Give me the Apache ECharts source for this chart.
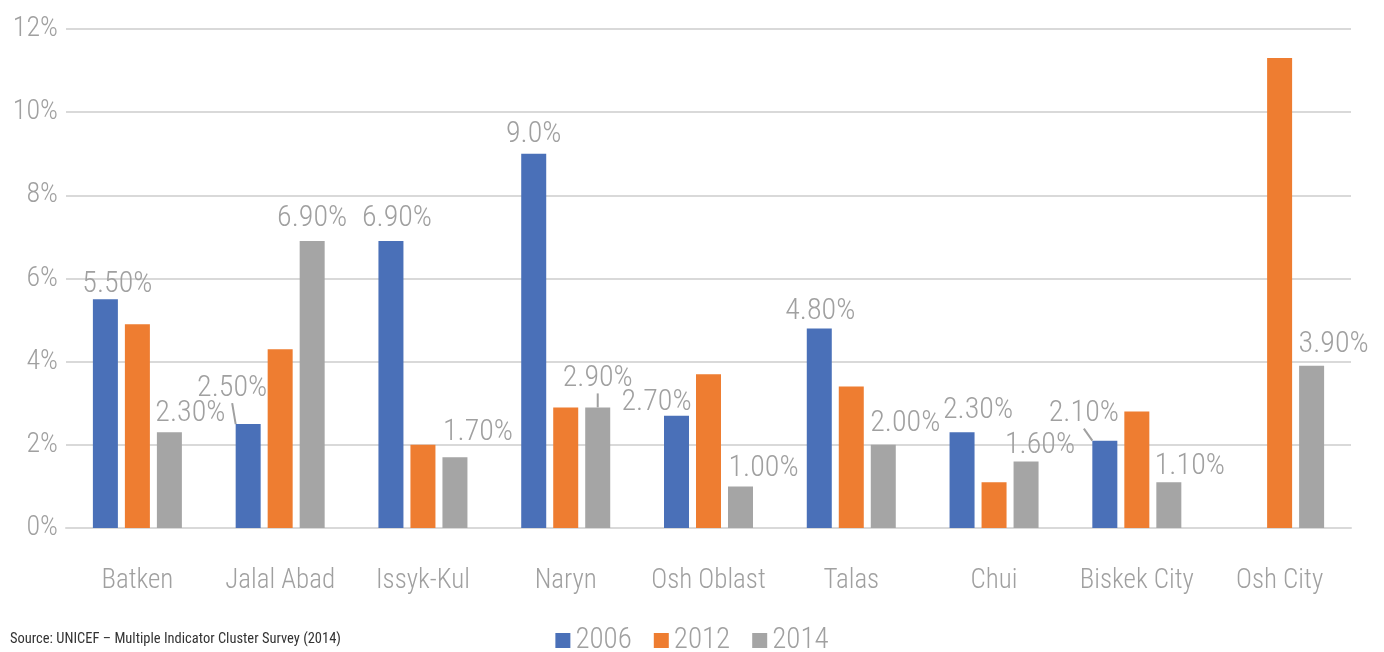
<!DOCTYPE html>
<html>
<head>
<meta charset="utf-8">
<script src="https://cdn.jsdelivr.net/npm/echarts@6/dist/echarts.min.js"></script>
<style>
html,body{margin:0;padding:0;background:#fff;}
#c{width:1384px;height:652px;}
</style>
</head>
<body>
<div id="c"></div>
<script>
const categories = ['Batken','Jalal Abad','Issyk-Kul','Naryn','Osh Oblast','Talas','Chui','Biskek City','Osh City'];
const seriesNames = ['2006','2012','2014'];
const values2006 = [5.5, 2.5, 6.9, 9.0, 2.7, 4.8, 2.3, 2.1, null];
const values2012 = [4.9, 4.3, 2.0, 2.9, 3.7, 3.4, 1.1, 2.8, 11.3];
const values2014 = [2.3, 6.9, 1.7, 2.9, 1.0, 2.0, 1.6, 1.1, 3.9];
const labels2006 = ['5.50%','2.50%','6.90%','9.0%','2.70%','4.80%','2.30%','2.10%', null];
const labels2012 = [null,null,null,null,null,null,null,null,null];
const labels2014 = ['2.30%','6.90%','1.70%','2.90%','1.00%','2.00%','1.60%','1.10%','3.90%'];
const yTicks = [0,2,4,6,8,10,12];

// label displacement (pixels) and leader-line flags
const shift2006 = [[12,5],[-16,-16],[6,-3],[0,1],[-20,7],[1,3],[16,-2],[-21,-7],null];
const shift2014 = [[21,1],[0,-3],[23,-5],[0,-9],[23,2],[22,-1],[14,4],[21,4],[22,-1]];
const leader2006 = [false,true,false,false,false,false,false,true,false];
const leader2014 = [false,false,false,true,false,false,false,false,false];

const FONT = '"Roboto Condensed","Liberation Sans Narrow","Roboto",sans-serif';
const colors = ['#4A70B8','#EE7D31','#A5A5A5'];
const labelColor = '#a0a0a0';

function buildData(vals, labs, leaders) {
  return vals.map((v, i) => {
    const item = { value: v };
    if (labs[i]) {
      item.label = { show: true, formatter: labs[i] };
      if (leaders && leaders[i]) item.labelLine = { show: true, lineStyle: { color: '#a0a0a0', width: 2 } };
    }
    return item;
  });
}

const chart = echarts.init(document.getElementById('c'));
const baseLabel = { show: false, position: 'top', distance: 5, color: labelColor, fontSize: 30, fontWeight: 300, fontFamily: FONT };
function layoutFor(shifts) {
  return function (p) {
    const s = shifts[p.dataIndex];
    return s ? { dx: s[0], dy: s[1] } : {};
  };
}

chart.setOption({
  animation: false,
  textStyle: { fontFamily: FONT },
  grid: { left: 66, right: 33, top: 29, bottom: 124, containLabel: false },
  legend: {
    data: seriesNames,
    bottom: -8,
    left: 'center',
    itemWidth: 15, itemHeight: 15,
    itemGap: 22,
    icon: 'rect',
    textStyle: { color: labelColor, fontSize: 29, fontWeight: 300, fontFamily: FONT }
  },
  graphic: [{
    type: 'text', left: 10, top: 632,
    style: { text: 'Source: UNICEF \u2013 Multiple Indicator Cluster Survey (2014)', fill: '#333', font: '14.5px ' + FONT }
  }],
  xAxis: {
    type: 'category',
    data: categories,
    axisLine: { lineStyle: { color: '#d9d9d9', width: 2 } },
    axisTick: { show: false },
    axisLabel: { interval: 0, color: labelColor, fontSize: 27, fontWeight: 300, margin: 40, fontFamily: FONT }
  },
  yAxis: {
    type: 'value',
    min: yTicks[0], max: yTicks[yTicks.length - 1], interval: 2,
    axisLine: { show: false },
    axisTick: { show: false },
    axisLabel: { formatter: '{value}%', color: labelColor, fontSize: 28, fontWeight: 300, margin: 8, fontFamily: FONT },
    splitLine: { lineStyle: { color: '#d9d9d9', width: 2 } }
  },
  series: [
    { name: seriesNames[0], type: 'bar', barWidth: 25, barGap: '28%', itemStyle: { color: colors[0] },
      label: baseLabel, labelLayout: layoutFor(shift2006), labelLine: { show: false },
      data: buildData(values2006, labels2006, leader2006) },
    { name: seriesNames[1], type: 'bar', barWidth: 25, barGap: '28%', itemStyle: { color: colors[1] },
      label: baseLabel,
      data: buildData(values2012, labels2012, null) },
    { name: seriesNames[2], type: 'bar', barWidth: 25, barGap: '28%', itemStyle: { color: colors[2] },
      label: baseLabel, labelLayout: layoutFor(shift2014), labelLine: { show: false },
      data: buildData(values2014, labels2014, leader2014) }
  ]
});
</script>
</body>
</html>
